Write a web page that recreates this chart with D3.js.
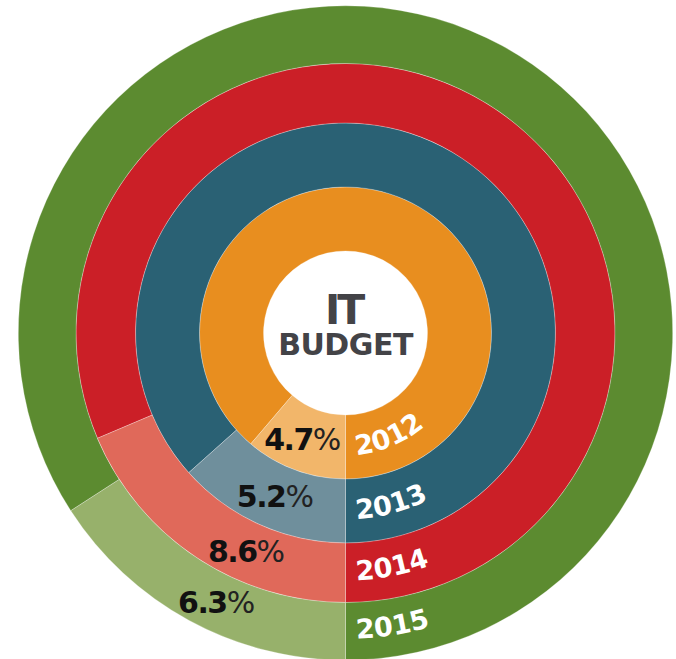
<!DOCTYPE html>
<html>
<head>
<meta charset="utf-8">
<script src="https://cdn.jsdelivr.net/npm/d3@7"></script>
<style>
  html, body { margin: 0; padding: 0; background: #fff; }
  svg { display: block; }
</style>
</head>
<body>
<svg id="chart"></svg>
<script>
const years = ["2012", "2013", "2014", "2015"];
const budgetShare = [4.7, 5.2, 8.6, 6.3];
const ringColors = ["#e88e1f", "#2a6174", "#cb1f27", "#5c8b30"];
const sliceColors = ["#f2b66a", "#6f8f9c", "#e0695a", "#97b16b"];
const centerTitle = ["IT", "BUDGET"];

const width = 676, height = 659;
const cx = 345.5, cy = 333;
// ring boundaries, inner hole first
const ringEdges = [82, 146, 210, 269.5, 327.2];

const svg = d3.select("#chart")
  .attr("width", width)
  .attr("height", height);

const g = svg.append("g").attr("transform", `translate(${cx},${cy})`);

// the slices are not drawn to scale in the original, so calibrate the sweep
const sweep = d3.scaleLinear()
  .domain([4.7, 5.2, 6.3, 8.6])
  .range([40.5, 48.3, 57.1, 67].map(d => d * Math.PI / 180));

const rings = years.map((y, i) => ({
  year: y,
  value: budgetShare[i],
  inner: ringEdges[i],
  outer: ringEdges[i + 1],
  color: ringColors[i],
  light: sliceColors[i],
  i
}));

const arc = d3.arc();

// dark part of each ring
g.selectAll("path.ring")
  .data(rings)
  .enter()
  .append("path")
  .attr("class", "ring")
  .attr("d", d => arc({
    innerRadius: d.inner,
    outerRadius: d.outer,
    startAngle: Math.PI + sweep(d.value),
    endAngle: 3 * Math.PI
  }))
  .attr("fill", d => d.color)
  .attr("stroke", "#fff")
  .attr("stroke-opacity", 0.45)
  .attr("stroke-width", 0.6);

// highlighted slice
g.selectAll("path.slice")
  .data(rings)
  .enter()
  .append("path")
  .attr("class", "slice")
  .attr("d", d => arc({
    innerRadius: d.inner,
    outerRadius: d.outer,
    startAngle: Math.PI,
    endAngle: Math.PI + sweep(d.value)
  }))
  .attr("fill", d => d.light)
  .attr("stroke", "#fff")
  .attr("stroke-opacity", 0.45)
  .attr("stroke-width", 0.6);

// percentage labels
const pct = g.selectAll("text.pct")
  .data(rings)
  .enter()
  .append("text")
  .attr("class", "pct")
  .attr("transform", d => {
    const r = (d.inner + d.outer) / 2;
    const a = (22 + 1.2 * d.i) * Math.PI / 180;
    return `translate(${-r * Math.sin(a)},${r * Math.cos(a)})`;
  })
  .attr("text-anchor", "middle")
  .attr("dy", "0.36em")
  .style("font-family", "'DejaVu Sans', sans-serif")
  .style("font-size", "30px")
  .attr("fill", "#111");

pct.append("tspan")
  .style("font-weight", "bold")
  .style("letter-spacing", "-1.5px")
  .text(d => d.value.toFixed(1));
pct.append("tspan")
  .style("font-weight", "normal")
  .attr("fill", "#222")
  .text("%");

// year labels following the ring
const defs = svg.append("defs");
rings.forEach(d => {
  const r = d.inner + (d.outer - d.inner) * 0.63;
  const p = d3.path();
  p.moveTo(0, r);
  p.arc(0, 0, r, Math.PI / 2, 0, true);
  defs.append("path")
    .attr("id", `yearPath${d.i}`)
    .attr("d", p.toString());
});

g.selectAll("text.year")
  .data(rings)
  .enter()
  .append("text")
  .attr("class", "year")
  .style("font-family", "'DejaVu Sans', sans-serif")
  .style("font-weight", "bold")
  .style("font-size", "27px")
  .attr("fill", "#fff")
  .append("textPath")
  .attr("href", d => `#yearPath${d.i}`)
  .attr("startOffset", 11)
  .text(d => d.year);

// centre title, one text block with two lines
const title = g.append("text")
  .attr("text-anchor", "middle")
  .style("font-family", "'DejaVu Sans', sans-serif")
  .style("font-weight", "bold")
  .attr("fill", "#434347");

title.append("tspan")
  .attr("x", -2)
  .attr("y", -9)
  .style("font-size", "41px")
  .style("letter-spacing", "-3px")
  .text(centerTitle[0]);

title.append("tspan")
  .attr("x", 0)
  .attr("y", 22)
  .style("font-size", "30px")
  .style("letter-spacing", "-0.5px")
  .text(centerTitle[1]);
</script>
</body>
</html>
